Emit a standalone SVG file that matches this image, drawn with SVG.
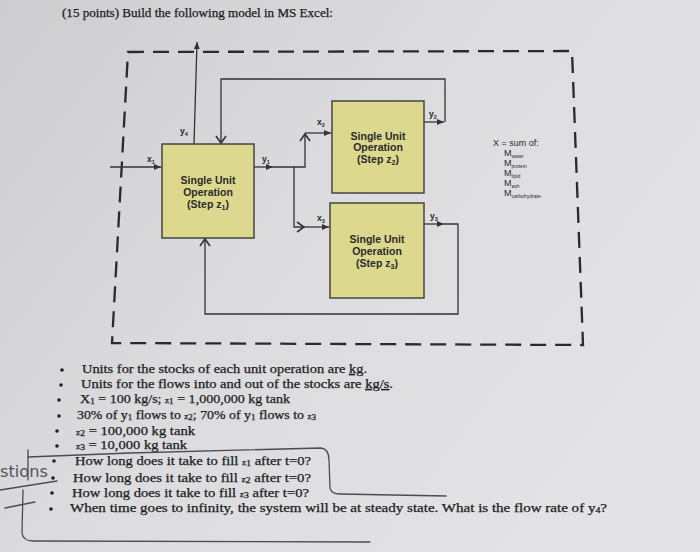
<svg xmlns="http://www.w3.org/2000/svg" width="700" height="552" viewBox="0 0 700 552">
<defs>
<linearGradient id="paper" x1="0" y1="0" x2="1" y2="0.6">
<stop offset="0" stop-color="#cdcdd0"/>
<stop offset="0.5" stop-color="#dcdcdf"/>
<stop offset="1" stop-color="#e3e3e5"/>
</linearGradient>
<marker id="arr" markerUnits="userSpaceOnUse" markerWidth="8" markerHeight="6" refX="7" refY="3" orient="auto">
<path d="M0,0 L7,3 L0,6 z" fill="#333"/>
</marker>
<marker id="chev" markerUnits="userSpaceOnUse" markerWidth="10" markerHeight="12" refX="8" refY="6" orient="auto">
<path d="M1,1 L8,6 L1,11" fill="none" stroke="#333" stroke-width="1.6"/>
</marker>
<style>
.box{fill:#dcd98f;stroke:#444;stroke-width:1.5}
.bt{font-family:"Liberation Sans",Arial,sans-serif;font-weight:bold;font-size:10.5px;fill:#2a2a2a;text-anchor:middle}
.lb{font-family:"Liberation Sans",Arial,sans-serif;font-weight:bold;font-size:8.5px;fill:#2a2a2a}
.sub{font-size:5.5px}
.ln{fill:none;stroke:#333;stroke-width:1.3}
.side{font-family:"Liberation Sans",Arial,sans-serif;font-size:9px;fill:#2a2a2a}
.tiny{font-size:5px}
.body{font-family:"Liberation Serif","Times New Roman",serif;font-size:11.5px;fill:#1e1e1e;stroke:#1e1e1e;stroke-width:0.25}
.bs{font-size:7.5px}
.pen{fill:none;stroke:#4c4a58;stroke-width:1.3;stroke-linecap:round;stroke-linejoin:round}
</style>
</defs>
<rect width="700" height="552" fill="url(#paper)"/>

<text x="62" y="17" class="body" font-size="12" textLength="271" lengthAdjust="spacingAndGlyphs">(15 points)  Build the following model in MS Excel:</text>

<path d="M128,52 L572,51 L583,345 L112,343 Z" fill="none" stroke="#2a2a2a" stroke-width="2.3" stroke-dasharray="16 9"/>

<g id="connectors">
<path class="ln" d="M110,167 H161" marker-end="url(#arr)"/>
<path class="ln" d="M194,144 L197,42" marker-end="url(#arr)"/>
<path class="ln" d="M424,122 H444" marker-end="url(#arr)"/>
<path class="ln" d="M445,122 V79 H221 V143" marker-end="url(#chev)"/>
<path class="ln" d="M254,167 H273" marker-end="url(#arr)"/>
<path class="ln" d="M273,167 H305 V134" marker-end="url(#chev)"/>
<path class="ln" d="M305,133 H331" marker-end="url(#arr)"/>
<path class="ln" d="M294,167 V227 H304" marker-end="url(#chev)"/>
<path class="ln" d="M304,227 H329" marker-end="url(#arr)"/>
<path class="ln" d="M424,224 H444" marker-end="url(#arr)"/>
<path class="ln" d="M444,224 H458 V314 H205 V239" marker-end="url(#chev)"/>
<text class="lb" x="147" y="162">x<tspan class="sub" dy="1.5">1</tspan></text>
<text class="lb" x="180" y="134">y<tspan class="sub" dy="1.5">4</tspan></text>
<text class="lb" x="262" y="162">y<tspan class="sub" dy="1.5">1</tspan></text>
<text class="lb" x="317" y="125">x<tspan class="sub" dy="1.5">2</tspan></text>
<text class="lb" x="429" y="117">y<tspan class="sub" dy="1.5">2</tspan></text>
<text class="lb" x="317" y="221">x<tspan class="sub" dy="1.5">3</tspan></text>
<text class="lb" x="430" y="219">y<tspan class="sub" dy="1.5">3</tspan></text>
</g>

<g id="z1">
<rect class="box" x="162" y="144" width="92" height="94"/>
<text class="bt" x="208" y="184">Single Unit</text>
<text class="bt" x="208" y="196">Operation</text>
<text class="bt" x="208" y="208">(Step z<tspan font-size="7" dy="1.5">1</tspan><tspan dy="-1.5">)</tspan></text>
</g>
<g id="z2">
<rect class="box" x="332" y="101" width="92" height="92"/>
<text class="bt" x="378" y="140">Single Unit</text>
<text class="bt" x="378" y="151">Operation</text>
<text class="bt" x="378" y="163">(Step z<tspan font-size="7" dy="1.5">2</tspan><tspan dy="-1.5">)</tspan></text>
</g>
<g id="z3">
<rect class="box" x="330" y="203" width="94" height="95"/>
<text class="bt" x="377" y="243">Single Unit</text>
<text class="bt" x="377" y="255">Operation</text>
<text class="bt" x="377" y="267">(Step z<tspan font-size="7" dy="1.5">3</tspan><tspan dy="-1.5">)</tspan></text>
</g>

<g id="legend">
<text class="side" x="493" y="146">X = sum of:</text>
<text class="side" x="504" y="156">M<tspan class="tiny" dy="2">water</tspan></text>
<text class="side" x="504" y="166">M<tspan class="tiny" dy="2">protein</tspan></text>
<text class="side" x="504" y="176">M<tspan class="tiny" dy="2">lipid</tspan></text>
<text class="side" x="504" y="186">M<tspan class="tiny" dy="2">ash</tspan></text>
<text class="side" x="504" y="196">M<tspan class="tiny" dy="2">carbohydrate</tspan></text>
</g>

<g id="bullets" fill="#1e1e1e">
<circle cx="62" cy="370" r="1.8"/>
<circle cx="61" cy="385" r="1.8"/>
<circle cx="59" cy="400" r="1.8"/>
<circle cx="59" cy="416" r="1.8"/>
<circle cx="57" cy="431" r="1.8"/>
<circle cx="57" cy="446" r="1.8"/>
<circle cx="54" cy="461" r="1.8"/>
<circle cx="53" cy="478" r="1.8"/>
<circle cx="52" cy="493" r="1.8"/>
<circle cx="51" cy="509" r="1.8"/>
</g>
<g id="text">
<text class="body" x="82" y="373" textLength="285" lengthAdjust="spacingAndGlyphs">Units for the stocks of each unit operation are <tspan style="text-decoration:underline">kg</tspan>.</text>
<text class="body" x="81" y="388" textLength="312" lengthAdjust="spacingAndGlyphs">Units for the flows into and out of the stocks are <tspan style="text-decoration:underline">kg/s</tspan>.</text>
<text class="body" x="80" y="403" textLength="210" lengthAdjust="spacingAndGlyphs">X<tspan class="bs" dy="1">1</tspan><tspan dy="-1"> = 100 kg/s; </tspan><tspan class="bs">z</tspan><tspan class="bs" dy="1">1</tspan><tspan dy="-1"> = 1,000,000 kg tank</tspan></text>
<text class="body" x="77" y="419" textLength="239" lengthAdjust="spacingAndGlyphs">30% of y<tspan class="bs" dy="1">1</tspan><tspan dy="-1"> flows to </tspan><tspan class="bs">z</tspan><tspan class="bs" dy="1">2</tspan><tspan dy="-1">; 70% of y</tspan><tspan class="bs" dy="1">1</tspan><tspan dy="-1"> flows to </tspan><tspan class="bs">z</tspan><tspan class="bs" dy="1">3</tspan></text>
<text class="body" x="76" y="435" textLength="119" lengthAdjust="spacingAndGlyphs"><tspan class="bs">z</tspan><tspan class="bs" dy="1">2</tspan><tspan dy="-1"> = 100,000 kg tank</tspan></text>
<text class="body" x="76" y="449" textLength="111" lengthAdjust="spacingAndGlyphs"><tspan class="bs">z</tspan><tspan class="bs" dy="1">3</tspan><tspan dy="-1"> = 10,000 kg tank</tspan></text>
<text class="body" x="75" y="465" textLength="236" lengthAdjust="spacingAndGlyphs">How long does it take to fill <tspan class="bs">z</tspan><tspan class="bs" dy="1">1</tspan><tspan dy="-1"> after t=0?</tspan></text>
<text class="body" x="73" y="482" textLength="238" lengthAdjust="spacingAndGlyphs">How long does it take to fill <tspan class="bs">z</tspan><tspan class="bs" dy="1">2</tspan><tspan dy="-1"> after t=0?</tspan></text>
<text class="body" x="72" y="497" textLength="237" lengthAdjust="spacingAndGlyphs">How long does it take to fill <tspan class="bs">z</tspan><tspan class="bs" dy="1">3</tspan><tspan dy="-1"> after t=0?</tspan></text>
<text class="body" x="70" y="512" textLength="537" lengthAdjust="spacingAndGlyphs">When time goes to infinity, the system will be at steady state.  What is the flow rate of y<tspan class="bs" dy="1">4</tspan><tspan dy="-1">?</tspan></text>
</g>

<g id="pencil">
<text x="0" y="477" font-family="DejaVu Sans,sans-serif" font-size="15" fill="#55535f" textLength="48" lengthAdjust="spacingAndGlyphs">stions</text>
<path class="pen" d="M28,457 L130,453 L321,448 Q329,449 329,460 L330,488 Q331,494 340,494 L446,496"/>
<path class="pen" d="M28,450 L28,480"/>
<path class="pen" d="M0,490 L57,481"/>
<path class="pen" d="M5,508 L35,502"/>
<path class="pen" d="M23,490 L22,533 Q23,541 33,541 L370,542"/>
</g>
</svg>
